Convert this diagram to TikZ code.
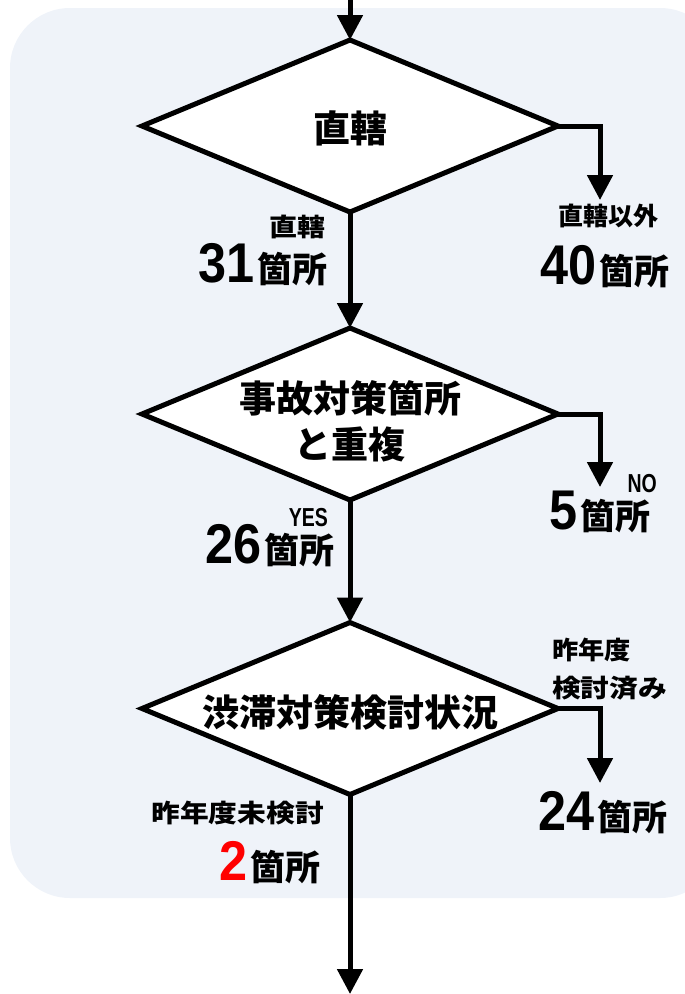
\documentclass[tikz,border=0pt]{standalone}
\usepackage{fontspec}
\usetikzlibrary{shapes.geometric,arrows.meta}
\newfontfamily\jp{Noto Sans CJK JP}
\newfontfamily\num{Liberation Sans}[FakeStretch=0.9]
\newfontfamily\numn{Liberation Sans}[FakeStretch=0.75]
\definecolor{bgc}{HTML}{EFF3F9}
\definecolor{redd}{HTML}{FF0000}
\tikzset{
  dia/.style={diamond, draw=black, fill=white, line width=5pt, inner sep=0pt, outer sep=0pt,
    aspect=2.4, minimum width=416pt, minimum height=172pt},
  dtext/.style={inner sep=0pt, align=center, font=\jp\bfseries\fontsize{37}{46}\selectfont},
  arr/.style={line width=5pt, -{Triangle[width=25pt,length=25pt]}},
  small/.style={inner sep=0pt, font=\jp\bfseries\fontsize{25}{38}\selectfont},
  yn/.style={inner sep=0pt, font=\numn\bfseries\fontsize{26}{26}\selectfont},
  cnt/.style={inner sep=0pt},
}
\newcommand{\bignum}[1]{{\num\bfseries\fontsize{56}{56}\selectfont #1}\hspace{3pt}}
\newcommand{\kasho}{{\jp\bfseries\fontsize{35}{35}\selectfont 箇所}}
\newcommand{\hs}[2]{\scalebox{#1}[1]{#2}}
\begin{document}
\begin{tikzpicture}[x=1pt,y=-1pt]
\useasboundingbox (0,0) rectangle (685,994);
\begin{scope}
\clip (0,0) rectangle (685,994);
\fill[bgc, rounded corners=60pt] (10,8) rectangle (720,898);
\end{scope}
\node[dia] (d1) at (350,126) {};
\node[dia] (d2) at (350,414) {};
\node[dia] (d3) at (350,708.5) {};
\node[dtext] (t1) at (350,128) {直轄};
\node[dtext] (t2) at (350,421) {事故対策箇所\\と重複};
\node[dtext] (t3) at (350,712) {渋滞対策検討状況};
\coordinate (top) at (350,0);
\coordinate (bot) at (350,994);
\coordinate (r1) at (600,200);
\coordinate (r2) at (600,487);
\coordinate (r3) at (600,783);
\draw[arr] (top) -- (d1.north);
\draw[arr] (d1.south) -- (d2.north);
\draw[arr] (d2.south) -- (d3.north);
\draw[arr] (d3.south) -- (bot);
\draw[arr] (d1.east) -| (r1);
\draw[arr] (d2.east) -| (r2);
\draw[arr] (d3.east) -| (r3);
% labels
\node[small, anchor=base east] (l1a) at (326,236) {\hs{1.12}{直轄}};
\node[cnt, anchor=base east] (l1b) at (328,282) {\bignum{31}\kasho};
\node[small, anchor=base] (l2a) at (608,225) {直轄以外};
\node[cnt, anchor=base east] (l2b) at (670,284) {\bignum{40}\kasho};
\node[yn, anchor=base east] (l3a) at (328,526) {YES};
\node[cnt, anchor=base east] (l3b) at (335,563) {\bignum{26}\kasho};
\node[yn, anchor=base east] (l4a) at (657,492) {NO};
\node[cnt, anchor=base east] (l4b) at (651,529) {\bignum{5}\kasho};
\node[small, anchor=base west] (l5a) at (552,659) {\hs{1.05}{昨年度}};
\node[small, anchor=base west] (l5b) at (552,697) {\hs{1.15}{検討済み}};
\node[cnt, anchor=base east] (l5c) at (668,830) {\bignum{24}\kasho};
\node[small, anchor=base east] (l6a) at (324,822) {\hs{1.15}{昨年度未検討}};
\node[cnt, anchor=base east] (l6b) at (321,880) {\bignum{\textcolor{redd}{2}}\kasho};
\end{tikzpicture}
\end{document}
